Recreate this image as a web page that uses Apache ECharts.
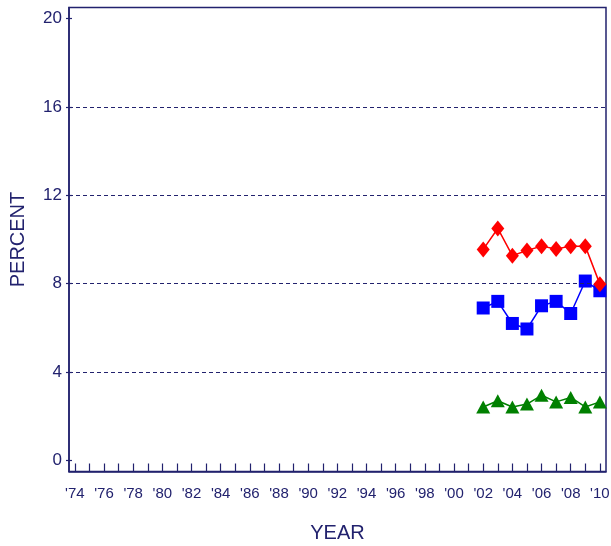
<!DOCTYPE html>
<html>
<head>
<meta charset="utf-8">
<script src="https://cdn.jsdelivr.net/npm/echarts@6/dist/echarts.min.js"></script>
<style>
  html, body { margin: 0; padding: 0; background: #fff; }
  #chart { width: 611px; height: 546px; }
</style>
</head>
<body>
<div id="chart"></div>
<script>
// data
var years = [2002, 2003, 2004, 2005, 2006, 2007, 2008, 2009, 2010];
var redVals = [9.55, 10.5, 9.27, 9.5, 9.7, 9.57, 9.7, 9.7, 7.98];
var blueVals = [6.9, 7.2, 6.2, 5.95, 7.0, 7.2, 6.65, 8.12, 7.68];
var greenVals = [2.42, 2.7, 2.42, 2.55, 2.95, 2.65, 2.85, 2.42, 2.65];

var yTicks = [0, 4, 8, 12, 16, 20];
var gridVals = [4, 8, 12, 16];
var xTickYears = [];
for (var y = 1974; y <= 2010; y++) xTickYears.push(y);
var xLabelYears = xTickYears.filter(function (v) { return v % 2 === 0; });

var navy = "#22226e";
var font = "Liberation Sans, Arial, sans-serif";

function pairs(vals) {
  return years.map(function (yr, i) { return [yr, vals[i]]; });
}

var chart = echarts.init(document.getElementById("chart"));

var option = {
  animation: false,
  grid: {
    left: 69, right: 5, top: 7.5, bottom: 74.5,
    outerBoundsMode: "none",
    containLabel: false,
    show: true, borderColor: navy, borderWidth: 1.5, backgroundColor: "#fff"
  },
  xAxis: {
    type: "value",
    min: 1973.6,
    max: 2010.42,
    name: "YEAR",
    nameLocation: "middle",
    nameGap: 52,
    nameTextStyle: { color: navy, fontSize: 20, fontFamily: font },
    axisLine: { show: true, onZero: false, lineStyle: { color: navy, width: 1.5 } },
    axisTick: { show: true, inside: true, length: 8, customValues: xTickYears, lineStyle: { color: navy, width: 1.2 } },
    axisLabel: {
      customValues: xLabelYears,
      margin: 15,
      color: navy, fontSize: 15, fontFamily: font,
      formatter: function (v) { return "'" + String(v).slice(2); }
    },
    splitLine: { show: false }
  },
  yAxis: [
    {
      type: "value",
      min: -0.5,
      max: 20.5,
      name: "PERCENT",
      nameLocation: "middle",
      nameGap: 41,
      nameTextStyle: { color: navy, fontSize: 20, fontFamily: font },
      axisLine: { show: true, onZero: false, lineStyle: { color: navy, width: 1.5 } },
      axisTick: { show: true, inside: false, length: 3, customValues: yTicks, lineStyle: { color: navy, width: 1.2 } },
      axisLabel: {
        customValues: yTicks,
        margin: 7,
        color: navy, fontSize: 17, fontFamily: font
      },
      splitLine: { show: false }
    },
    {
      // inner half of the y ticks
      type: "value",
      position: "left",
      min: -0.5,
      max: 20.5,
      axisLine: { show: false, onZero: false },
      axisTick: { show: true, inside: true, length: 3, customValues: yTicks, lineStyle: { color: navy, width: 1.2 } },
      axisLabel: { show: false },
      splitLine: { show: false }
    }
  ],
  series: [
    {
      type: "line",
      data: pairs(greenVals),
      symbol: "triangle",
      symbolSize: [14, 13],
      itemStyle: { color: "#008000" },
      lineStyle: { color: "#008000", width: 1.5 },
      z: 3,
      markLine: {
        silent: true,
        symbol: "none",
        label: { show: false },
        lineStyle: { color: navy, type: [4, 3], width: 1 },
        data: gridVals.map(function (v) { return { yAxis: v }; })
      }
    },
    {
      type: "line",
      data: pairs(blueVals),
      symbol: "rect",
      symbolSize: 13,
      itemStyle: { color: "#0000ff" },
      lineStyle: { color: "#0000ff", width: 1.5 },
      z: 4
    },
    {
      type: "line",
      data: pairs(redVals),
      symbol: "diamond",
      symbolSize: [13, 16],
      itemStyle: { color: "#ff0000" },
      lineStyle: { color: "#ff0000", width: 1.5 },
      z: 5
    }
  ]
};

chart.setOption(option);
</script>
</body>
</html>
